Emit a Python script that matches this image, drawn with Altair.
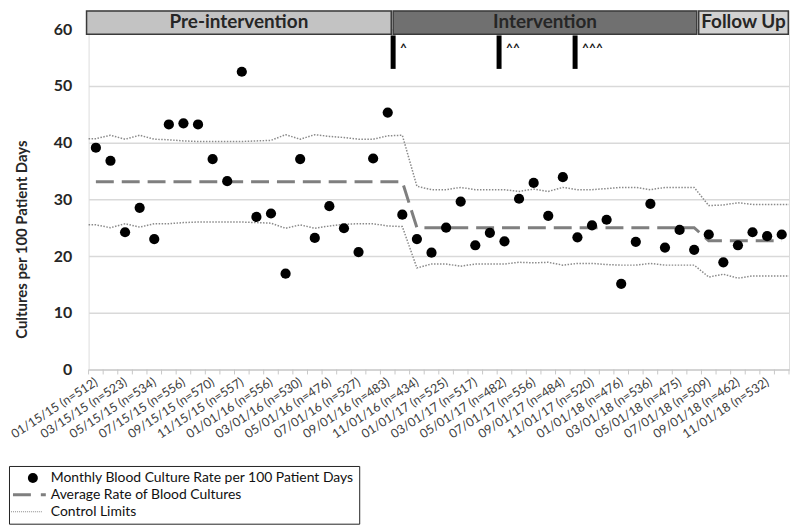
import json
import numpy as np
import pandas as pd
import altair as alt

# ---------------- data ----------------
tick_dates = ["01/15/15", "03/15/15", "05/15/15", "07/15/15", "09/15/15", "11/15/15",
              "01/01/16", "03/01/16", "05/01/16", "07/01/16", "09/01/16", "11/01/16",
              "01/01/17", "03/01/17", "05/01/17", "07/01/17", "09/01/17", "11/01/17",
              "01/01/18", "03/01/18", "05/01/18", "07/01/18", "09/01/18", "11/01/18"]
tick_n = [512, 523, 534, 556, 570, 557, 556, 530, 476, 527, 483, 434,
          525, 517, 482, 556, 484, 520, 476, 536, 475, 509, 462, 532]

rates = [39.1, 36.8, 24.2, 28.5, 23.0, 43.2, 43.4, 43.2, 37.1, 33.2, 52.5, 26.9,
         27.5, 16.9, 37.1, 23.2, 28.8, 24.9, 20.7, 37.2, 45.3, 27.3, 23.0, 20.6,
         25.0, 29.6, 21.9, 24.1, 22.6, 30.1, 32.9, 27.1, 33.9, 23.3, 25.4, 26.4,
         15.1, 22.5, 29.2, 21.5, 24.6, 21.1, 23.8, 18.9, 21.9, 24.2, 23.5, 23.8]

average = ([33.1] * 22) + ([25.0] * 20) + ([22.7] * 6)

ucl = [40.7, 41.3, 40.6, 41.3, 40.6, 40.5, 40.3, 40.2, 40.2, 40.2, 40.2, 40.3,
       40.4, 41.4, 40.6, 41.4, 41.1, 40.9, 40.6, 40.6, 41.2, 41.3,
       32.3, 31.7, 31.7, 32.1, 31.7, 31.7, 31.7, 31.4, 31.8, 31.4, 32.1, 31.7,
       31.7, 31.9, 32.1, 32.1, 31.7, 32.1, 32.1, 32.1,
       28.9, 29.0, 29.4, 29.1, 29.1, 29.1]
lcl = [25.5, 25.0, 25.7, 25.1, 25.7, 25.7, 25.9, 26.0, 26.0, 26.0, 26.0, 25.9,
       25.8, 24.9, 25.5, 24.9, 25.3, 25.6, 25.7, 25.7, 25.3, 25.2,
       17.9, 18.6, 18.6, 18.2, 18.6, 18.6, 18.6, 18.9, 18.8, 18.9, 18.4, 18.7,
       18.7, 18.5, 18.4, 18.4, 18.7, 18.4, 18.4, 18.4,
       16.3, 16.8, 16.1, 16.5, 16.5, 16.5]

phases = ["Pre-intervention", "Intervention", "Follow Up"]
phase_start = [-0.64, 20.37, 41.31]
phase_end = [20.24, 41.18, 47.45]
phase_fill = ["#c3c3c3", "#707070", "#d2d2d2"]
phase_bottom = 59.1
phase_top = 63.2
phase_text_y = 61.3

markers = ["^", "^^", "^^^"]
marker_pos = [20.37, 27.63, 32.84]
marker_low = 53.0
marker_high = 58.9
marker_text_y = 56.6

series_names = ["Monthly Blood Culture Rate per 100 Patient Days",
                "Average Rate of Blood Cultures",
                "Control Limits"]

# ---------------- tables ----------------
n_months = len(rates)
idx = list(range(n_months))
tick_labels = [f"{d} (n={n})" for d, n in zip(tick_dates, tick_n)]

df_pts = pd.DataFrame({"x": idx, "y": rates, "series": series_names[0]})
df_avg = pd.DataFrame({"x": idx, "y": average})
edge_x = [-0.5] + idx + [n_months - 0.5]
df_ucl = pd.DataFrame({"x": edge_x, "y": [ucl[0]] + ucl + [ucl[-1]]})
df_lcl = pd.DataFrame({"x": edge_x, "y": [lcl[0]] + lcl + [lcl[-1]]})
df_phase = pd.DataFrame({"x": phase_start, "x2": phase_end,
                         "y": [phase_bottom] * 3, "y2": [phase_top] * 3,
                         "fill": phase_fill})
df_phase_text = pd.DataFrame({"x": [(a + b) / 2 for a, b in zip(phase_start, phase_end)],
                              "y": [phase_text_y] * 3, "label": phases})
df_mark = pd.DataFrame({"x": marker_pos, "y": [marker_low] * 3, "y2": [marker_high] * 3})
df_mark_text = pd.DataFrame({"x": marker_pos, "y": [marker_text_y] * 3, "label": markers})
df_ticks = pd.DataFrame({"x": np.arange(-0.5, n_months, 1.0)})

# ---------------- encodings ----------------
W, H = 704, 361
YTOP = 63.33
FONT = "Lato"

label_expr = f"{json.dumps(tick_labels)}[round(datum.value / 2)]"

X = alt.X("x:Q",
          scale=alt.Scale(domain=[-0.5, n_months - 0.5], nice=False, zero=False),
          axis=alt.Axis(values=list(range(0, n_months, 2)), labelExpr=label_expr,
                        title=None, grid=False, ticks=False, labelAngle=-33,
                        labelAlign="right", labelBaseline="middle", labelPadding=11,
                        labelFont=FONT, labelFontSize=12.5, labelColor="#404040",
                        labelOverlap=False, labelBound=False, labelFlush=False,
                        domainColor="#d0d0d0", domainWidth=1.5))
Y = alt.Y("y:Q",
          scale=alt.Scale(domain=[0, YTOP], nice=False, zero=True),
          axis=alt.Axis(values=list(range(0, 61, 10)),
                        title="Cultures per 100 Patient Days",
                        titleFont=FONT, titleFontSize=15, titleFontWeight="bold",
                        titleColor="#262626", titleX=-59, titleY=230,
                        labelFont=FONT, labelFontSize=16, labelFontWeight="bold",
                        labelColor="#262626", labelPadding=17,
                        ticks=False, domain=False,
                        gridColor="#d9d9d9", gridWidth=1.5))

legend = alt.Legend(title=None, orient="none", legendX=-80, legendY=458,
                    labelFont=FONT, labelFontSize=14, labelColor="#111111",
                    labelLimit=500,
                    symbolSize=100, symbolStrokeWidth=0, symbolOffset=12,
                    labelOffset=11, rowPadding=3, padding=5,
                    strokeColor="#222222")

# legend symbol shapes (unit coordinates, 1 unit = 5px at symbolSize 100)
dash_path = "M-4,-0.3H-0.4V0.3H-4Z M1.6,-0.3H2.6V0.3H1.6Z"
dot_path = " ".join(
    f"M{v:.2f},-0.1H{v + 0.2:.2f}V0.1H{v:.2f}Z" for v in np.arange(-4.4, 2.0, 0.4)
)

# ---------------- layers ----------------
boxes = alt.Chart(df_phase).mark_rect(stroke="#3a3a3a", strokeWidth=1.5).encode(
    x=X, x2="x2:Q", y=Y, y2="y2:Q",
    fill=alt.Fill("fill:N", scale=None))

box_text = alt.Chart(df_phase_text).mark_text(
    font=FONT, fontSize=19, fontWeight="bold", color="#262626").encode(
    x=X, y=Y, text="label:N")

mark_bars = alt.Chart(df_mark).mark_rule(strokeWidth=5, color="#000000").encode(
    x=X, y=Y, y2="y2:Q")

mark_text = alt.Chart(df_mark_text).mark_text(
    font=FONT, fontSize=12, fontWeight="bold", align="left", dx=7, color="#111111").encode(
    x=X, y=Y, text="label:N")

ucl_line = alt.Chart(df_ucl).mark_line(color="#8a8a8a", strokeWidth=1.5,
                                       strokeDash=[1.5, 1.5]).encode(x=X, y=Y)
lcl_line = alt.Chart(df_lcl).mark_line(color="#8a8a8a", strokeWidth=1.5,
                                       strokeDash=[1.5, 1.5]).encode(x=X, y=Y)
avg_line = alt.Chart(df_avg).mark_line(color="#7f7f7f", strokeWidth=3,
                                       strokeDash=[18, 8]).encode(x=X, y=Y)

points = alt.Chart(df_pts).mark_point(filled=True, size=105, opacity=1).encode(
    x=X, y=Y,
    shape=alt.Shape("series:N",
                    scale=alt.Scale(domain=series_names,
                                    range=["circle", dash_path, dot_path]),
                    legend=legend),
    color=alt.Color("series:N",
                    scale=alt.Scale(domain=series_names,
                                    range=["#000000", "#7f7f7f", "#8a8a8a"]),
                    legend=legend))

ticks = alt.Chart(df_ticks).mark_rule(color="#c8c8c8", strokeWidth=1).encode(
    x=X, y=alt.value(H), y2=alt.value(H + 5))

chart = alt.layer(ucl_line, lcl_line, avg_line, points, ticks,
                  boxes, box_text, mark_bars, mark_text).properties(
    width=W, height=H,
    padding={"left": 0, "top": 0, "right": 0, "bottom": 0}
).configure_view(stroke=None).configure(font=FONT)

chart.save("out.html", embed_options={"renderer": "svg", "actions": False})
